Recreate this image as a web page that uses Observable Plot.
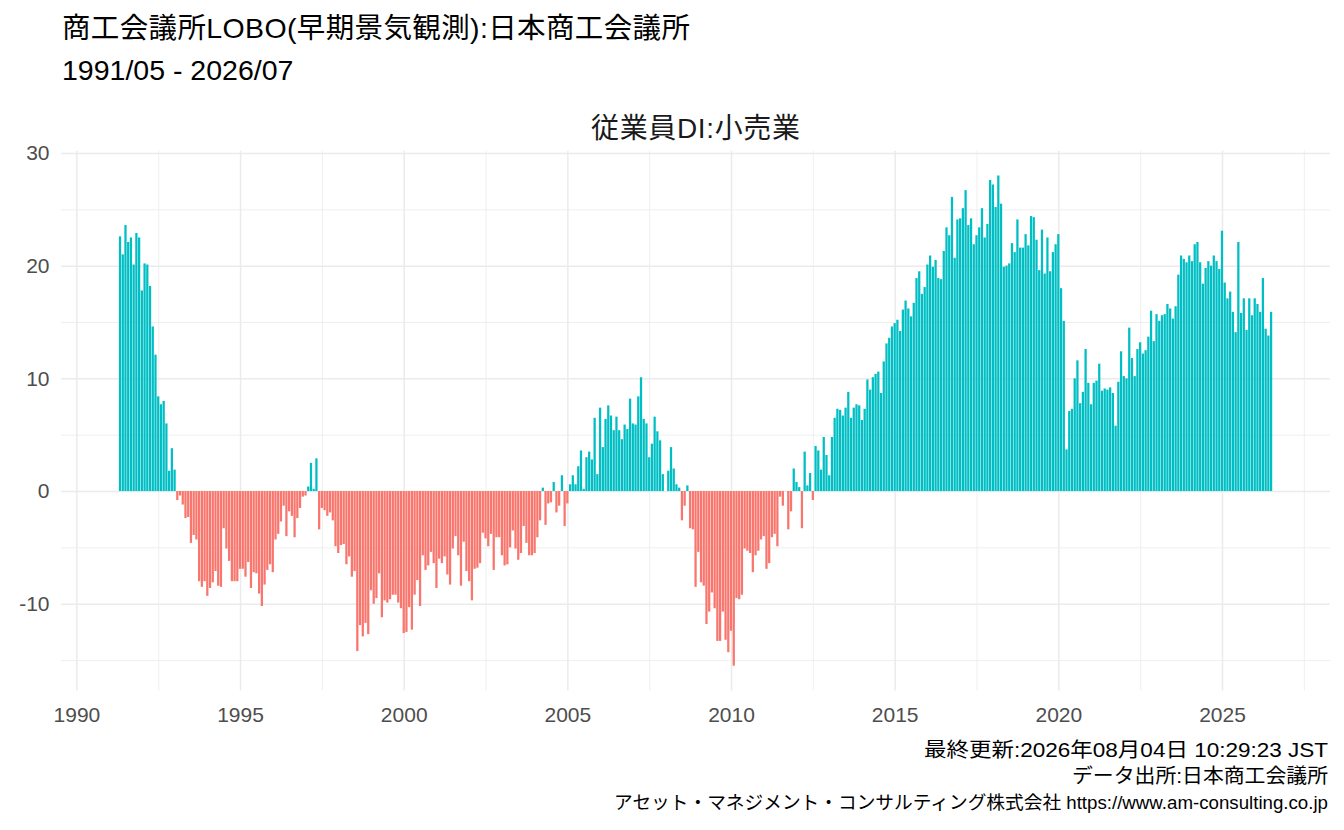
<!DOCTYPE html>
<html>
<head>
<meta charset="utf-8">
<script src="https://cdn.jsdelivr.net/npm/d3@7"></script>
<script src="https://cdn.jsdelivr.net/npm/@observablehq/plot@0.6"></script>
<style>
  html, body { margin: 0; padding: 0; background: #ffffff; }
  #page { position: relative; width: 1344px; height: 830px; overflow: hidden; background: #fff; }
  #header { position: absolute; left: 0; top: 0; z-index: 2; }
  #chart { position: absolute; left: 0; top: 140px; z-index: 1; }
  #caption { position: absolute; left: 0; top: 735px; z-index: 2; }
  text { font-family: "Liberation Sans", "Noto Sans CJK JP", sans-serif; }
</style>
</head>
<body>
<div id="page">
  <div id="header"></div>
  <div id="chart"></div>
  <div id="caption"></div>
</div>
<script>
// ---- text ----
const titleLine1 = "商工会議所LOBO(早期景気観測):日本商工会議所";
const titleLine2 = "1991/05 - 2026/07";
const panelTitle = "従業員DI:小売業";
const captionLines = [
  "最終更新:2026年08月04日 10:29:23 JST",
  "データ出所:日本商工会議所",
  "アセット・マネジメント・コンサルティング株式会社 https://www.am-consulting.co.jp"
];
const captionSizes = [20, 20, 18.7];
const captionWidths = [404, 256, null];

// ---- data (monthly, first value = 1991/05) ----
const startYear = 1991;
const startMonth = 5;
const values1991to1999 = [
  22.6, 21.0, 23.6, 22.1, 22.5, 20.1, 22.9, 22.5,
  17.8, 20.2, 20.1, 18.2, 14.6, 12.1, 8.4, 7.7, 8.0, 6.0, 1.8, 3.8,
  1.9, -0.8, -0.4, -1.2, -2.4, -2.3, -4.6, -3.9, -4.3, -8.0, -8.5, -8.0,
  -9.3, -8.6, -8.1, -7.1, -8.4, -8.5, -3.3, -5.1, -6.2, -8.0, -8.0, -8.0,
  -6.9, -6.9, -7.6, -6.3, -8.6, -7.2, -7.3, -9.1, -10.2, -8.3, -7.0, -6.5,
  -7.2, -4.3, -3.8, -2.7, -1.3, -4.0, -1.8, -2.2, -4.1, -2.4, -1.5, -0.5,
  -0.4, 0.4, 2.5, 0.2, 2.9, -3.4, -1.5, -1.7, -2.2, -1.9, -2.6, -4.9,
  -5.5, -4.8, -4.7, -6.5, -5.8, -7.6, -7.1, -14.2, -11.9, -12.9, -11.7, -12.7,
  -8.8, -10.0, -9.5, -7.3, -11.2, -9.7, -9.9, -9.6, -9.2, -9.2, -9.9, -10.4
];
const values2000to2009 = [
  -12.6, -12.5, -10.3, -12.3, -9.2, -7.9, -10.2, -5.7, -7.0, -6.6, -5.4, -6.4,
  -8.6, -6.0, -6.4, -5.8, -7.4, -8.3, -5.1, -4.0, -5.7, -8.4, -4.5, -7.1,
  -8.0, -9.7, -6.9, -6.8, -6.4, -3.7, -4.2, -4.9, -3.8, -7.0, -4.1, -4.1,
  -5.7, -6.6, -6.5, -5.0, -3.5, -5.1, -6.1, -5.5, -3.1, -4.6, -5.7, -5.7,
  -5.5, -4.1, -2.6, 0.3, -3.0, -1.1, -1.0, 0.8, -1.9, -1.3, 1.4, -3.1,
  -1.1, 0.6, 1.4, 0.6, 2.2, 3.6, 0.2, 3.0, 3.5, 2.8, 6.5, 1.5,
  7.4, 3.9, 6.4, 7.6, 6.7, 5.4, 6.6, 5.4, 4.6, 5.9, 5.5, 8.2,
  6.0, 5.9, 8.4, 10.1, 6.4, 6.0, 3.0, 4.2, 6.6, 5.3, 4.5, 1.5,
  0.0, 1.8, 3.9, 2.0, 0.6, 0.3, -2.6, -1.3, 0.5, -3.3, -3.4, -8.5,
  -5.4, -8.1, -8.4, -11.8, -10.7, -9.0, -10.4, -13.3, -13.3, -10.7, -13.2, -14.3
];
const values2010to2019 = [
  -12.4, -15.5, -9.5, -9.6, -9.2, -5.1, -5.3, -5.5, -7.2, -5.7, -5.3, -4.3,
  -4.0, -6.9, -6.4, -4.1, -3.8, -4.9, -0.5, -1.3, 0.0, -3.4, -1.8, 2.0,
  0.8, 0.35, -3.3, 3.5, 0.5, 1.6, -0.8, 4.0, 3.6, 1.9, 4.8, 3.2,
  1.4, 4.8, 6.5, 7.3, 7.2, 6.7, 7.4, 8.8, 6.5, 7.4, 7.7, 7.6,
  6.3, 7.3, 9.9, 9.0, 10.1, 10.4, 10.6, 8.7, 11.5, 13.1, 13.6, 14.6,
  14.9, 15.2, 14.2, 16.1, 16.9, 16.2, 15.5, 16.7, 18.9, 19.5, 17.5, 18.1,
  20.1, 20.9, 19.9, 20.5, 18.9, 18.8, 21.3, 23.4, 22.7, 26.1, 20.7, 24.1,
  24.2, 25.1, 26.7, 23.6, 24.2, 21.9, 22.7, 23.4, 25.1, 22.5, 23.7, 27.6,
  27.2, 25.2, 28.0, 25.5, 19.9, 20.0, 20.2, 22.0, 21.2, 24.1, 21.6, 21.6,
  22.8, 21.8, 24.4, 24.3, 22.3, 19.6, 23.2, 19.3, 22.5, 19.5, 21.2, 21.9
];
const values2020to2026 = [
  22.8, 18.0, 15.1, 3.7, 7.1, 7.3, 10.0, 11.6, 7.8, 8.8, 12.6, 9.6,
  7.7, 9.6, 9.8, 11.3, 8.9, 9.1, 9.0, 9.2, 8.7, 5.8, 9.7, 12.4,
  10.2, 10.0, 14.5, 11.8, 10.2, 12.6, 13.2, 12.2, 12.5, 13.7, 16.0, 13.3,
  15.7, 15.1, 15.6, 15.7, 16.6, 16.2, 15.3, 16.4, 19.2, 20.9, 20.6, 20.3,
  20.9, 20.4, 21.9, 22.1, 20.3, 18.4, 19.8, 20.4, 20.0, 20.9, 20.4, 19.7,
  23.1, 18.5, 17.1, 17.7, 15.9, 14.1, 22.1, 15.8, 17.1, 14.3, 17.1, 15.6,
  17.1, 16.6, 15.9, 18.9, 14.4, 13.8, 15.9
];

// ---- ticks ----
const xTicks = [1990, 1995, 2000, 2005, 2010, 2015, 2020, 2025];
const xMinor = [1992.5, 1997.5, 2002.5, 2007.5, 2012.5, 2017.5, 2022.5, 2027.5];
const yTicks = [-10, 0, 10, 20, 30];
const yMinor = [-15, -5, 5, 15, 25];

const POS = "#00BFC4", NEG = "#F8766D", GRID = "#EBEBEB";
const HALF = 12.6 / 365.25; // half bar width in years

const allValues = [].concat(values1991to1999, values2000to2009, values2010to2019, values2020to2026);
const rows = allValues.map((v, i) => {
  const m = startMonth - 1 + i;
  const t = startYear + Math.floor(m / 12) + (m % 12) / 12;
  return {t, x1: t - HALF, x2: t + HALF, value: v, color: v >= 0 ? POS : NEG};
});

// ---- header ----
const FONT = '"Liberation Sans", "Noto Sans CJK JP", sans-serif';
const hdr = d3.select("#header").append("svg").attr("width", 1344).attr("height", 150)
  .style("overflow", "visible");
hdr.append("text").attr("x", 62).attr("y", 38).attr("font-size", 28.5).attr("fill", "#000")
  .attr("font-family", FONT).attr("textLength", 628).attr("lengthAdjust", "spacing").text(titleLine1);
hdr.append("text").attr("x", 62).attr("y", 80).attr("font-size", 28.5).attr("fill", "#000")
  .attr("font-family", FONT).text(titleLine2);
hdr.append("text").attr("x", 695.5).attr("y", 138).attr("font-size", 28).attr("fill", "#1a1a1a")
  .attr("text-anchor", "middle").attr("font-family", FONT)
  .attr("textLength", 209).attr("lengthAdjust", "spacing").text(panelTitle);

// ---- chart ----
const chart = Plot.plot({
  width: 1344,
  height: 600,
  marginLeft: 61,
  marginRight: 14,
  marginTop: 10.7,
  marginBottom: 49.5,
  style: {fontFamily: FONT, fontSize: "21px", color: "#4D4D4D", background: "none", overflow: "visible"},
  x: {domain: [1989.53, 2028.3], ticks: xTicks, tickFormat: d => String(d), tickSize: 0, tickPadding: 16, label: null},
  y: {domain: [-17.7, 30.2], ticks: yTicks, tickFormat: d => String(d), tickSize: 0, tickPadding: 12, label: null},
  color: {type: "identity"},
  marks: [
    Plot.ruleX(xMinor, {stroke: GRID, strokeWidth: 0.8}),
    Plot.ruleY(yMinor, {stroke: GRID, strokeWidth: 0.8}),
    Plot.ruleX(xTicks, {stroke: GRID, strokeWidth: 1.5}),
    Plot.ruleY(yTicks, {stroke: GRID, strokeWidth: 1.5}),
    Plot.rectY(rows, {x1: "x1", x2: "x2", y: "value", fill: "color"})
  ]
});
document.getElementById("chart").appendChild(chart);

// ---- caption ----
const cap = d3.select("#caption").append("svg").attr("width", 1344).attr("height", 95)
  .style("overflow", "visible");
captionLines.forEach((s, i) => {
  const t = cap.append("text").attr("x", 1328).attr("y", 22 + i * 26).attr("font-size", captionSizes[i])
    .attr("text-anchor", "end").attr("fill", "#000").attr("font-family", FONT).text(s);
  if (captionWidths[i]) t.attr("textLength", captionWidths[i]).attr("lengthAdjust", "spacingAndGlyphs");
});
</script>
</body>
</html>
